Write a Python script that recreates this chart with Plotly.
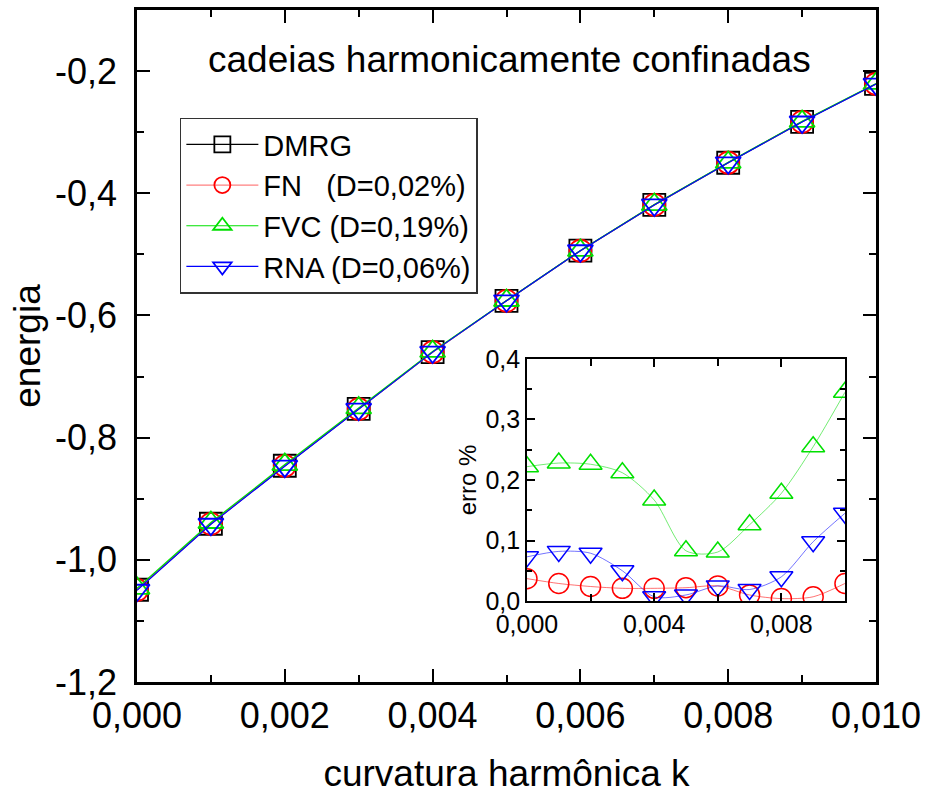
import plotly.graph_objects as go
import numpy as np

# ---------------- data ----------------
k = [0.000, 0.001, 0.002, 0.003, 0.004, 0.005, 0.006, 0.007, 0.008, 0.009, 0.010]

e_dmrg = [-1.0490, -0.9410, -0.8460, -0.7530, -0.6600, -0.5760, -0.4940, -0.4190, -0.3500, -0.2830, -0.2210]
e_fn   = [-1.0494, -0.9413, -0.8462, -0.7532, -0.6601, -0.5761, -0.4941, -0.4190, -0.3500, -0.2830, -0.2211]
e_fvc  = [-1.0467, -0.9389, -0.8441, -0.7514, -0.6589, -0.5755, -0.4936, -0.4185, -0.3494, -0.2823, -0.2202]
e_rna  = [-1.0498, -0.9418, -0.8467, -0.7534, -0.6600, -0.5760, -0.4941, -0.4191, -0.3501, -0.2833, -0.2213]

err_fn  = [0.037, 0.029, 0.024, 0.021, 0.021, 0.022, 0.025, 0.010, 0.004, 0.007, 0.029]
err_fvc = [0.222, 0.228, 0.226, 0.212, 0.167, 0.083, 0.081, 0.126, 0.178, 0.255, 0.345]
err_rna = [0.073, 0.082, 0.079, 0.050, 0.007, 0.010, 0.025, 0.019, 0.040, 0.098, 0.145]

names = ["DMRG", "FN\u00a0\u00a0\u00a0(D=0,02%)", "FVC (D=0,19%)", "RNA (D=0,06%)"]
y_ticks = [-1.2, -1.0, -0.8, -0.6, -0.4, -0.2]
title_text = "cadeias harmonicamente confinadas"

FONT = "Liberation Sans, Arial, sans-serif"

fig = go.Figure()

main_series = [
    (e_dmrg, names[0], "black", "square-open", "black"),
    (e_fn, names[1], "red", "circle-open", "#ff8080"),
    (e_fvc, names[2], "#00e000", "triangle-up-open", "#00e000"),
    (e_rna, names[3], "blue", "triangle-down-open", "blue"),
]
for ys, nm, col, sym, lcol in main_series:
    fig.add_trace(go.Scatter(
        x=k, y=ys, name=nm, mode="lines+markers",
        line=dict(color=lcol, width=1.2),
        marker=dict(symbol=sym, size=22, color=col, line=dict(width=1.8, color=col)),
        xaxis="x", yaxis="y",
    ))

inset_series = [
    (err_fn, "red", "circle-open", "rgba(255,0,0,0.55)"),
    (err_fvc, "#00e000", "triangle-up-open", "rgba(0,220,0,0.55)"),
    (err_rna, "blue", "triangle-down-open", "rgba(0,0,255,0.55)"),
]
for ys, col, sym, lcol in inset_series:
    fig.add_trace(go.Scatter(
        x=k, y=ys, mode="lines+markers", showlegend=False,
        line=dict(color=lcol, width=1, shape="spline", smoothing=0.8),
        marker=dict(symbol=sym, size=20, color=col, line=dict(width=1.5, color=col)),
        xaxis="x2", yaxis="y2",
    ))

axis_common = dict(showline=True, linecolor="black", mirror="ticks",
                   showgrid=False, zeroline=False, ticks="inside",
                   tickcolor="black", automargin=False)

fig.update_layout(
    width=928, height=794,
    margin=dict(l=137, r=52, t=10, b=112),
    paper_bgcolor="white", plot_bgcolor="white",
    separators=",.",
    font=dict(family=FONT, color="black"),
    xaxis=dict(
        **axis_common, domain=[0, 1], range=[0, 0.010],
        tickmode="linear", tick0=0, dtick=0.002, tickformat=".3f",
        ticklen=13, tickwidth=2, linewidth=2.5,
        tickfont=dict(size=36, family=FONT),
        minor=dict(dtick=0.001, ticklen=7, tickwidth=2, ticks="inside", tickcolor="black"),
        title=dict(text="curvatura harmônica k", font=dict(size=37, family=FONT), standoff=26),
    ),
    yaxis=dict(
        **axis_common, domain=[0, 1], range=[-1.2, -0.1],
        tickmode="array", tickvals=y_ticks,
        ticktext=[f"{v:.1f}".replace(".", ",") for v in y_ticks],
        ticklen=13, tickwidth=2, linewidth=2.5,
        tickfont=dict(size=36, family=FONT), ticklabelstandoff=10,
        minor=dict(tickvals=list(np.round(np.arange(-1.1, -0.05, 0.2), 2)),
                   ticklen=7, tickwidth=2, ticks="inside", tickcolor="black"),
        title=dict(text="energia", font=dict(size=37, family=FONT), standoff=4),
    ),
    xaxis2=dict(
        **axis_common, domain=[0.5277, 0.958], anchor="y2", range=[0, 0.010],
        tickmode="linear", tick0=0, dtick=0.004, tickformat=".3f",
        ticklen=8, tickwidth=1.5, linewidth=1.5,
        tickfont=dict(size=25, family=FONT),
        minor=dict(dtick=0.002, ticklen=7, tickwidth=1.5, ticks="inside", tickcolor="black"),
    ),
    yaxis2=dict(
        **axis_common, domain=[0.1205, 0.4807], anchor="x2", range=[0, 0.4],
        tickmode="linear", tick0=0, dtick=0.1, tickformat=".1f",
        ticklen=8, tickwidth=1.5, linewidth=1.5,
        tickfont=dict(size=25, family=FONT),
        minor=dict(dtick=0.05, ticklen=5, tickwidth=1.5, ticks="inside", tickcolor="black"),
        title=dict(text="erro %", font=dict(size=24, family=FONT), standoff=2),
    ),
    legend=dict(
        x=0.058, y=0.84, xanchor="left", yanchor="top",
        bordercolor="#333333", borderwidth=1.5, bgcolor="white",
        font=dict(size=29, family=FONT), itemwidth=72, tracegroupgap=0,
    ),
    annotations=[dict(
        text=title_text, xref="paper", yref="paper", x=0.5047, y=0.9256,
        xanchor="center", yanchor="middle", showarrow=False,
        font=dict(size=37, family=FONT),
    )],
)

fig.write_html("out.html")
